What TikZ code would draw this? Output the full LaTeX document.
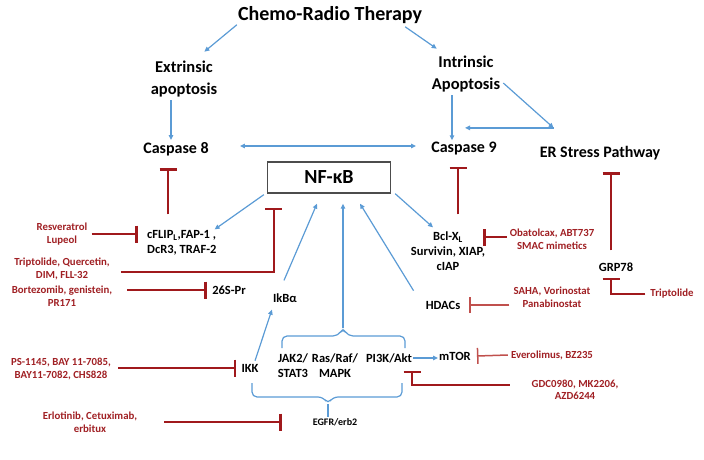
\documentclass[tikz,border=0pt]{standalone}
\usepackage{fontspec}
\setmainfont{Carlito}
\usepackage{tikz}
\usetikzlibrary{positioning,calc,arrows.meta}
\definecolor{arrblue}{RGB}{91,155,213}
\definecolor{inhred}{RGB}{160,25,28}
\definecolor{inhlight}{RGB}{192,80,77}
\definecolor{drugred}{RGB}{160,32,36}

\begin{document}
\begin{tikzpicture}[x=1pt,y=-1pt,
		title/.style={font=\bfseries\fontsize{20}{24}\selectfont,inner sep=1pt},
		head/.style={font=\bfseries\fontsize{16.5}{22}\selectfont,inner sep=1pt,align=center},
		casp/.style={font=\bfseries\fontsize{16}{19}\selectfont,inner sep=1pt},
		lbl/.style={font=\bfseries\fontsize{12.5}{15}\selectfont,inner sep=1pt,align=center},
		drug/.style={font=\bfseries\fontsize{10.8}{12.5}\selectfont,text=drugred,inner sep=1pt,align=center},
		arr/.style={draw=arrblue,line width=1.2pt,-{Triangle[length=5pt,width=4.5pt]}},
		arrs/.style={draw=arrblue,line width=1.2pt,{Triangle[length=5pt,width=4.5pt]}-{Triangle[length=5pt,width=4.5pt]}},
		inh/.style={draw=inhred,line width=2.6pt,-{Bar[width=17pt]}},
		inhl/.style={draw=inhlight,line width=1.5pt,-{Bar[width=16pt]}},
		brc/.style={draw=arrblue,line width=1.2pt,rounded corners=5pt}]
		\useasboundingbox (0,0) rectangle (704,460);

		\node[title] (crt) at (330,15) {Chemo-Radio Therapy};
		\node[head] (ext) at (184,79) {Extrinsic\\apoptosis};
		\node[head] (intr) at (466,74) {Intrinsic\\Apoptosis};
		\node[casp] (cas8) at (176,149) {Caspase 8};
		\node[casp] (cas9) at (464,149) {Caspase 9};
		\node[casp] (er) at (600,153) {ER Stress Pathway};
		\node[draw=black!70,line width=1.3pt,minimum width=123pt,minimum height=31pt,inner sep=0pt,font=\bfseries\fontsize{20}{24}\selectfont] (nfkb) at (329,177.5) {NF-κB};

		\node[lbl,align=left,anchor=west] (cflip) at (146,243) {cFLIP\textsubscript{L},FAP-1 ,\\DcR3, TRAF-2};
		\node[lbl] (bcl) at (448,251) {Bcl-X\textsubscript{L}\\Survivin, XIAP,\\cIAP};
		\node[lbl] (grp) at (616,267) {GRP78};
		\node[lbl] (pr) at (229,290) {26S-Pr};
		\node[lbl] (ikb) at (285,298) {IkBα};
		\node[lbl] (hdac) at (443,305) {HDACs};
		\node[lbl] (ikk) at (250,368) {IKK};
		\node[lbl] (jak) at (293,366) {JAK2/\\STAT3};
		\node[lbl] (ras) at (335,366) {Ras/Raf/\\MAPK};
		\node[lbl] (pi3k) at (389,358) {PI3K/Akt};
		\node[lbl] (mtor) at (455,356) {mTOR};
		\node[lbl,font=\bfseries\fontsize{10}{12}\selectfont] (egfr) at (335,422) {EGFR/erb2};

		\node[drug] (resv) at (62,234) {Resveratrol\\Lupeol};
		\node[drug] (trip) at (62,269) {Triptolide, Quercetin,\\DIM, FLL-32};
		\node[drug] (bort) at (62,296) {Bortezomib, genistein,\\PR171};
		\node[drug] (ps) at (61,369) {PS-1145, BAY 11-7085,\\BAY11-7082, CHS828};
		\node[drug] (erl) at (90,422) {Erlotinib, Cetuximab,\\erbitux};
		\node[drug] (obat) at (552,239) {Obatolcax, ABT737\\SMAC mimetics};
		\node[drug] (trip2) at (672,294) {Triptolide};
		\node[drug] (saha) at (552,297) {SAHA, Vorinostat\\Panabinostat};
		\node[drug] (ever) at (552,355) {Everolimus, BZ235};
		\node[drug] (gdc) at (575,390) {GDC0980, MK2206,\\AZD6244};

		\coordinate (erc) at ($(er.north west)+(15,-17)$);
		\coordinate (btop) at (343,328);
		\coordinate (bbot) at (328,404);

		\draw[brc] (282,348) -- (282,336) -- (338,336) -- (btop) -- (348,336) -- (405,336) -- (405,348);
		\draw[brc] (252,383) -- (252,397) -- (323,397) -- (bbot) -- (333,397) -- (402,397) -- (402,383);

		\draw[arr] (crt.south west) -- ($(ext.north east)+(-14,-8)$);
		\draw[arr] ($(crt.south east)+(-18,2)$) -- ($(intr.north west)+(6,-6)$);
		\draw[arr] ($(ext.south)+(-13,2)$) -- ($(cas8.north)+(-5,-1)$);
		\draw[arr] ($(intr.south)+(-14,2)$) -- ($(cas9.north)+(-12,-1)$);
		\draw[arrs] ($(cas8.east)+(30,-3)$) -- ($(cas9.west)+(-14,-3)$);
		\draw[arr] ($(intr.east)+(2,9)$) -- (erc);
		\draw[arr] (erc) -- ($(erc -| cas9.north)+(1,0)$);
		\draw[arr] ($(nfkb.south west)+(-3,1)$) -- ($(cflip.north east)+(-3,0)$);
		\draw[arr] ($(nfkb.south east)+(4,0)$) -- ($(bcl.north)+(-15,-3)$);
		\draw[arr] ($(ikb.north)+(-1,-12)$) -- ($(nfkb.south)+(-12,10)$);
		\draw[arr] (btop) -- ($(nfkb.south)+(14,10)$);
		\draw[arr] ($(hdac.north west)+(-11,-9)$) -- ($(nfkb.south)+(31,10)$);
		\draw[arr] ($(ikk.north)+(5,-2)$) -- ($(ikb.south west)+(0,6)$);
		\draw[arr] (pi3k.east) -- (pi3k.east -| mtor.west);
		\draw[draw=arrblue,line width=1.2pt] (bbot) -- (bbot |- egfr.north);

		\draw[inh] ($(cflip.north west)+(22,-15)$) -- ($(cas8.south)+(-8,11)$);
		\draw[inh] ($(bcl.north)+(10,-16)$) -- ($(cas9.south)+(-6,10)$);
		\draw[inh] ($(grp.north)+(-5,-11)$) -- ($(er.south)+(11,11)$);
		\draw[inh] ([xshift=3pt]resv.east) -- ([xshift=-8pt]resv.east -| cflip.west);
		\draw[inh] ([xshift=10pt,yshift=-3pt]trip.east) -| ($(nfkb.south west)+(7,14)$);
		\draw[inh] ([xshift=14pt]pr.west -| bort.east) -- ([xshift=-4pt]pr.west);
		\draw[inh] ([xshift=6pt]ikk.west -| ps.east) -- ([xshift=-4pt]ikk.west);
		\draw[inh] ([xshift=26pt]egfr.west -| erl.east) -- ([xshift=-30pt]egfr.west);
		\draw[inh] ($(obat.west)+(-2,-2)$) -- ($(obat.west -| bcl.east)+(-3,-2)$);
		\draw[inh] ([xshift=-4pt]trip2.west) -| ($(grp.south)+(-5,5)$);
		\draw[inh] ([xshift=-21pt,yshift=5pt]gdc.west) -| ($(pi3k.south east)+(-1,7)$);
		\draw[inhl] ([xshift=-3pt]hdac.east -| saha.west) -- ([xshift=8pt]hdac.east);
		\draw[inhl] ([xshift=-2pt]ever.west) -- ([xshift=5pt]mtor.east);
	\end{tikzpicture}
\end{document}
